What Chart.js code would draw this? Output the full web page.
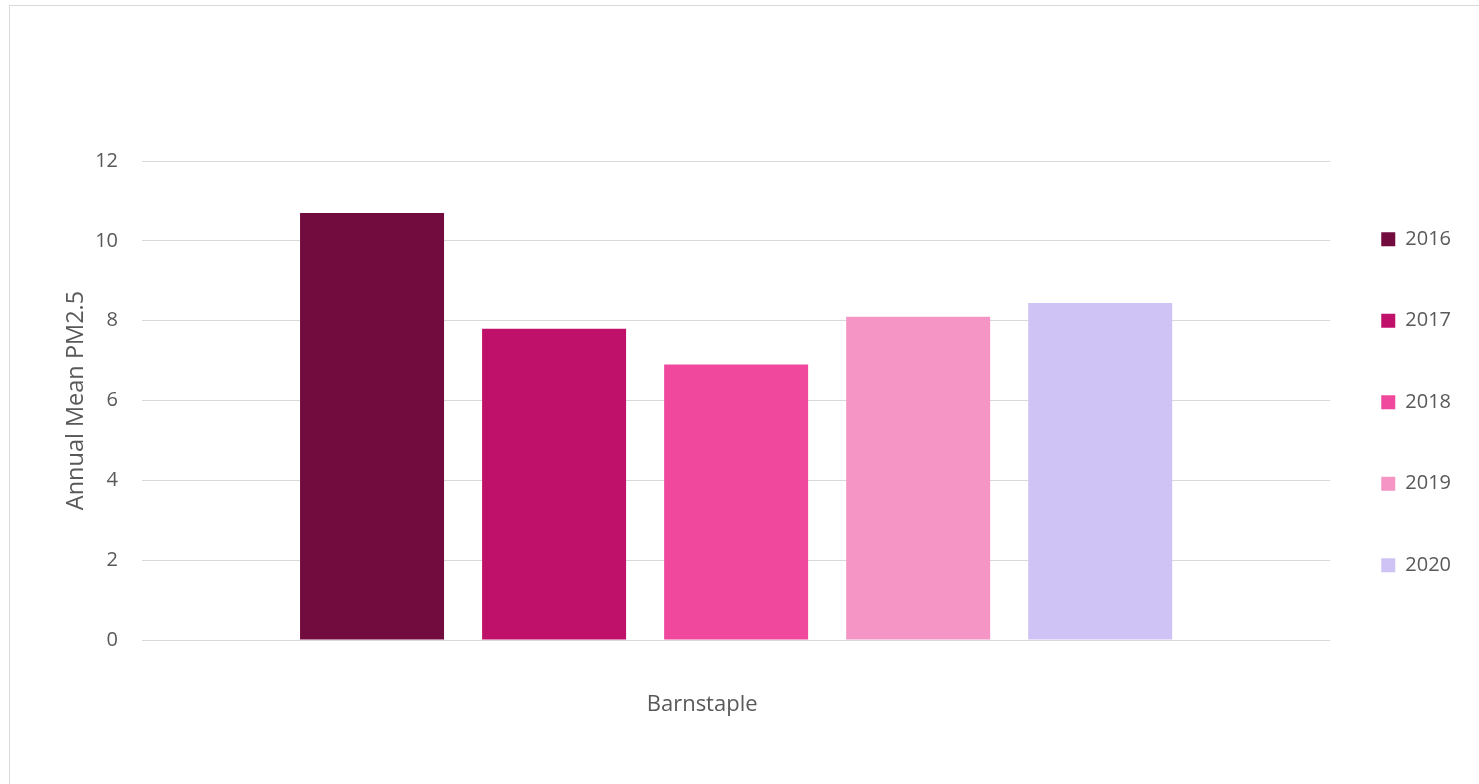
<!DOCTYPE html>
<html>
<head>
<meta charset="utf-8">
<script src="https://cdn.jsdelivr.net/npm/chart.js@4"></script>
<style>
    html, body { margin: 0; padding: 0; background: #fff; overflow: hidden; }
    #wrap { position: relative; width: 1479px; height: 784px; }
    #frame {
        position: absolute; left: 9px; top: 5px; width: 1500px; height: 800px;
        border: 1px solid #d9d9d9; pointer-events: none;
    }
</style>
</head>
<body>
<div id="wrap">
    <canvas id="myChart" width="1479" height="784"></canvas>
    <div id="frame"></div>
</div>
<script>
// ===== data =====
const categories = ['Barnstaple'];
const years = ['2016', '2017', '2018', '2019', '2020'];
const pm25 = [10.7, 7.8, 6.9, 8.1, 8.44];
const yTicks = [0, 2, 4, 6, 8, 10, 12];

// colours per year (same order as years)
const barColors = ['#720b3e', '#bf1169', '#ef489d', '#f595c6', '#cfc3f5'];

const textColor = '#595959';
const gridColor = '#d9d9d9';

function buildChart() {
    const ctx = document.getElementById('myChart').getContext('2d');

    const datasets = years.map((y, i) => ({
        label: y,
        data: [pm25[i]],
        backgroundColor: barColors[i],
        borderWidth: 0,
        categoryPercentage: 0.766,
        barPercentage: 0.791
    }));

    return new Chart(ctx, {
        type: 'bar',
        data: { labels: categories, datasets: datasets },
        options: {
            responsive: false,
            animation: false,
            events: [],
            layout: { padding: { top: 161, left: 0, right: 18, bottom: 0 } },
            plugins: {
                tooltip: { enabled: false },
                legend: {
                    position: 'right',
                    fullSize: false,
                    // empty title only nudges the items down a little
                    title: { display: true, text: '', font: { size: 14, lineHeight: 1 }, padding: 0 },
                    labels: {
                        color: textColor,
                        boxWidth: 14,
                        boxHeight: 14,
                        padding: 51,
                        font: { family: 'Open Sans', size: 20, lineHeight: 1.525 },
                        // array text -> item height follows the line height
                        generateLabels: (chart) =>
                            Chart.defaults.plugins.legend.labels.generateLabels(chart)
                                .map(item => ({ ...item, text: [item.text] }))
                    }
                }
            },
            scales: {
                x: {
                    grid: { display: false },
                    border: { display: false },
                    ticks: {
                        color: textColor,
                        padding: 44,
                        labelOffset: -34,
                        font: { family: 'Open Sans', size: 22 }
                    },
                    afterFit: (scale) => { scale.height = 144; }
                },
                y: {
                    min: 0,
                    max: 12,
                    afterBuildTicks: (scale) => {
                        scale.ticks = yTicks.map(v => ({ value: v }));
                    },
                    grid: { color: gridColor, lineWidth: 1, drawTicks: false },
                    border: { display: false },
                    ticks: {
                        color: textColor,
                        padding: 24,
                        font: { family: 'Open Sans', size: 20 }
                    },
                    title: {
                        display: true,
                        text: 'Annual Mean PM2.5',
                        color: textColor,
                        padding: { top: 62, bottom: 0 },
                        font: { family: 'Open Sans', size: 23.5, weight: 'normal' }
                    },
                    afterFit: (scale) => { scale.width = 142; }
                }
            }
        }
    });
}

buildChart();
</script>
</body>
</html>
